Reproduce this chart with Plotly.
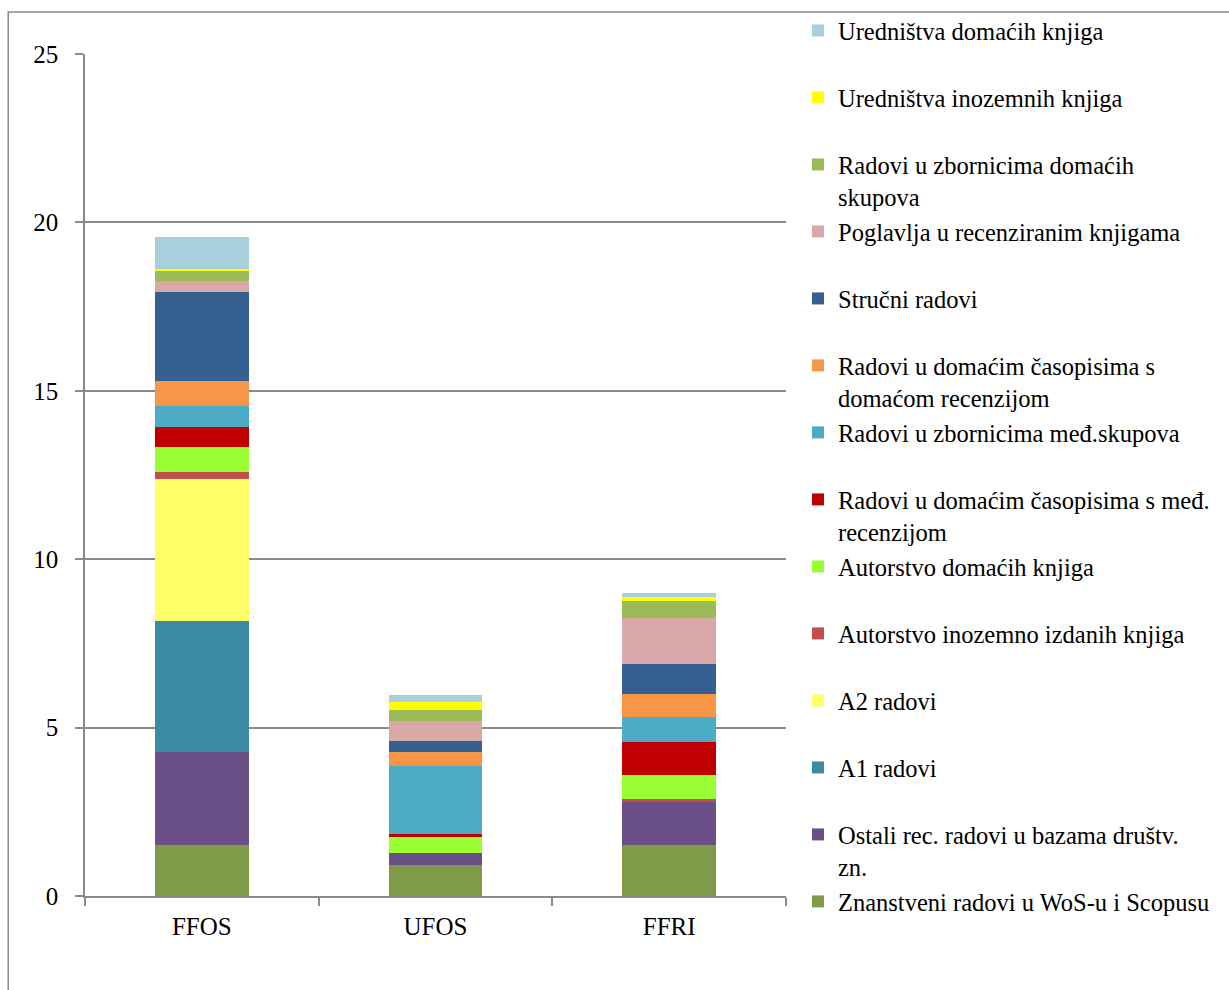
import plotly.graph_objects as go

categories = ["FFOS", "UFOS", "FFRI"]

# series, bottom to top of the stack
series_names = [
    "Znanstveni radovi u WoS-u i Scopusu",
    "Ostali rec. radovi u bazama društv. zn.",
    "A1 radovi",
    "A2 radovi",
    "Autorstvo inozemno izdanih knjiga",
    "Autorstvo domaćih knjiga",
    "Radovi u domaćim časopisima s međ. recenzijom",
    "Radovi u zbornicima međ.skupova",
    "Radovi u domaćim časopisima s domaćom recenzijom",
    "Stručni radovi",
    "Poglavlja u recenziranim knjigama",
    "Radovi u zbornicima domaćih skupova",
    "Uredništva inozemnih knjiga",
    "Uredništva domaćih knjiga",
]

wos = [1.51, 0.91, 1.51]
ostali = [2.77, 0.36, 1.29]
a1 = [3.89, 0.0, 0.0]
a2 = [4.22, 0.0, 0.0]
aut_ino = [0.21, 0.0, 0.08]
aut_dom = [0.72, 0.49, 0.70]
cas_med = [0.60, 0.09, 1.00]
zb_med = [0.64, 2.01, 0.73]
cas_dom = [0.72, 0.41, 0.68]
strucni = [2.64, 0.33, 0.89]
poglavlja = [0.33, 0.61, 1.38]
zb_dom = [0.31, 0.30, 0.51]
ur_ino = [0.07, 0.25, 0.10]
ur_dom = [0.95, 0.21, 0.12]

series_values = [wos, ostali, a1, a2, aut_ino, aut_dom, cas_med, zb_med,
                 cas_dom, strucni, poglavlja, zb_dom, ur_ino, ur_dom]

colors = ["#7F9A48", "#6A5086", "#3B8BA3", "#FFFF66", "#C0504D", "#99FF33",
          "#C00000", "#4BACC6", "#F79646", "#366092", "#D9A9A9", "#9BBB59",
          "#FFFF00", "#A9CFDD"]

# legend wrapping as in the original
wrap = {
    "Ostali rec. radovi u bazama društv. zn.": "Ostali rec. radovi u bazama društv.<br>zn.",
    "Radovi u domaćim časopisima s međ. recenzijom": "Radovi u domaćim časopisima s međ.<br>recenzijom",
    "Radovi u domaćim časopisima s domaćom recenzijom": "Radovi u domaćim časopisima s<br>domaćom recenzijom",
    "Radovi u zbornicima domaćih skupova": "Radovi u zbornicima domaćih<br>skupova",
}

FONT = "Liberation Serif, serif"
W, H = 1229, 990
L, R, T, B = 85, 788, 54, 896

fig = go.Figure()
n = len(series_names)
for i, (name, vals, col) in enumerate(zip(series_names, series_values, colors)):
    label = wrap.get(name, name + "<br>\u00a0")
    fig.add_trace(go.Bar(
        x=categories, y=vals, name=label, legendgroup=f"g{i}",
        legendrank=n - i,
        marker=dict(color=col, line=dict(width=0)),
        hovertext=name,
    ))

def px(xp):
    return (xp - L) / (R - L)

def py(yp):
    return (B - yp) / (B - T)

fig.add_shape(type="rect", xref="paper", yref="paper",
              x0=px(8), x1=px(1240), y0=py(1000), y1=py(12),
              line=dict(color="#8A8A8A", width=1.5), fillcolor="rgba(0,0,0,0)",
              layer="below")

fig.update_layout(
    width=W, height=H,
    barmode="stack", bargap=0.6,
    paper_bgcolor="white", plot_bgcolor="white",
    margin=dict(l=L, r=W - R, t=T, b=H - B, pad=0),
    font=dict(family=FONT, size=25, color="black"),
    legend=dict(
        xref="container", yref="container",
        x=798 / W, y=1 - 8 / H, xanchor="left", yanchor="top",
        traceorder="grouped", tracegroupgap=0.3, maxheight=1,
        valign="top", font=dict(family=FONT, size=24.5, color="black"),
        bgcolor="rgba(0,0,0,0)", borderwidth=0,
    ),
    xaxis=dict(
        showline=True, linecolor="#8A8A8A", linewidth=1.5,
        ticks="outside", tickson="boundaries", ticklen=8, tickcolor="#8A8A8A",
        tickwidth=1.5, showgrid=False, ticklabelstandoff=7,
        tickfont=dict(family=FONT, size=25, color="black"),
    ),
    yaxis=dict(
        range=[0, 25], tickvals=[0, 5, 10, 15, 20, 25],
        showline=True, linecolor="#8A8A8A", linewidth=1.5,
        ticks="outside", ticklen=8, tickcolor="#8A8A8A", tickwidth=1.5,
        showgrid=True, gridcolor="#8A8A8A", gridwidth=1.5,
        zeroline=False, ticklabelstandoff=12,
        tickfont=dict(family=FONT, size=25, color="black"),
    ),
)

fig.write_html("out.html")
